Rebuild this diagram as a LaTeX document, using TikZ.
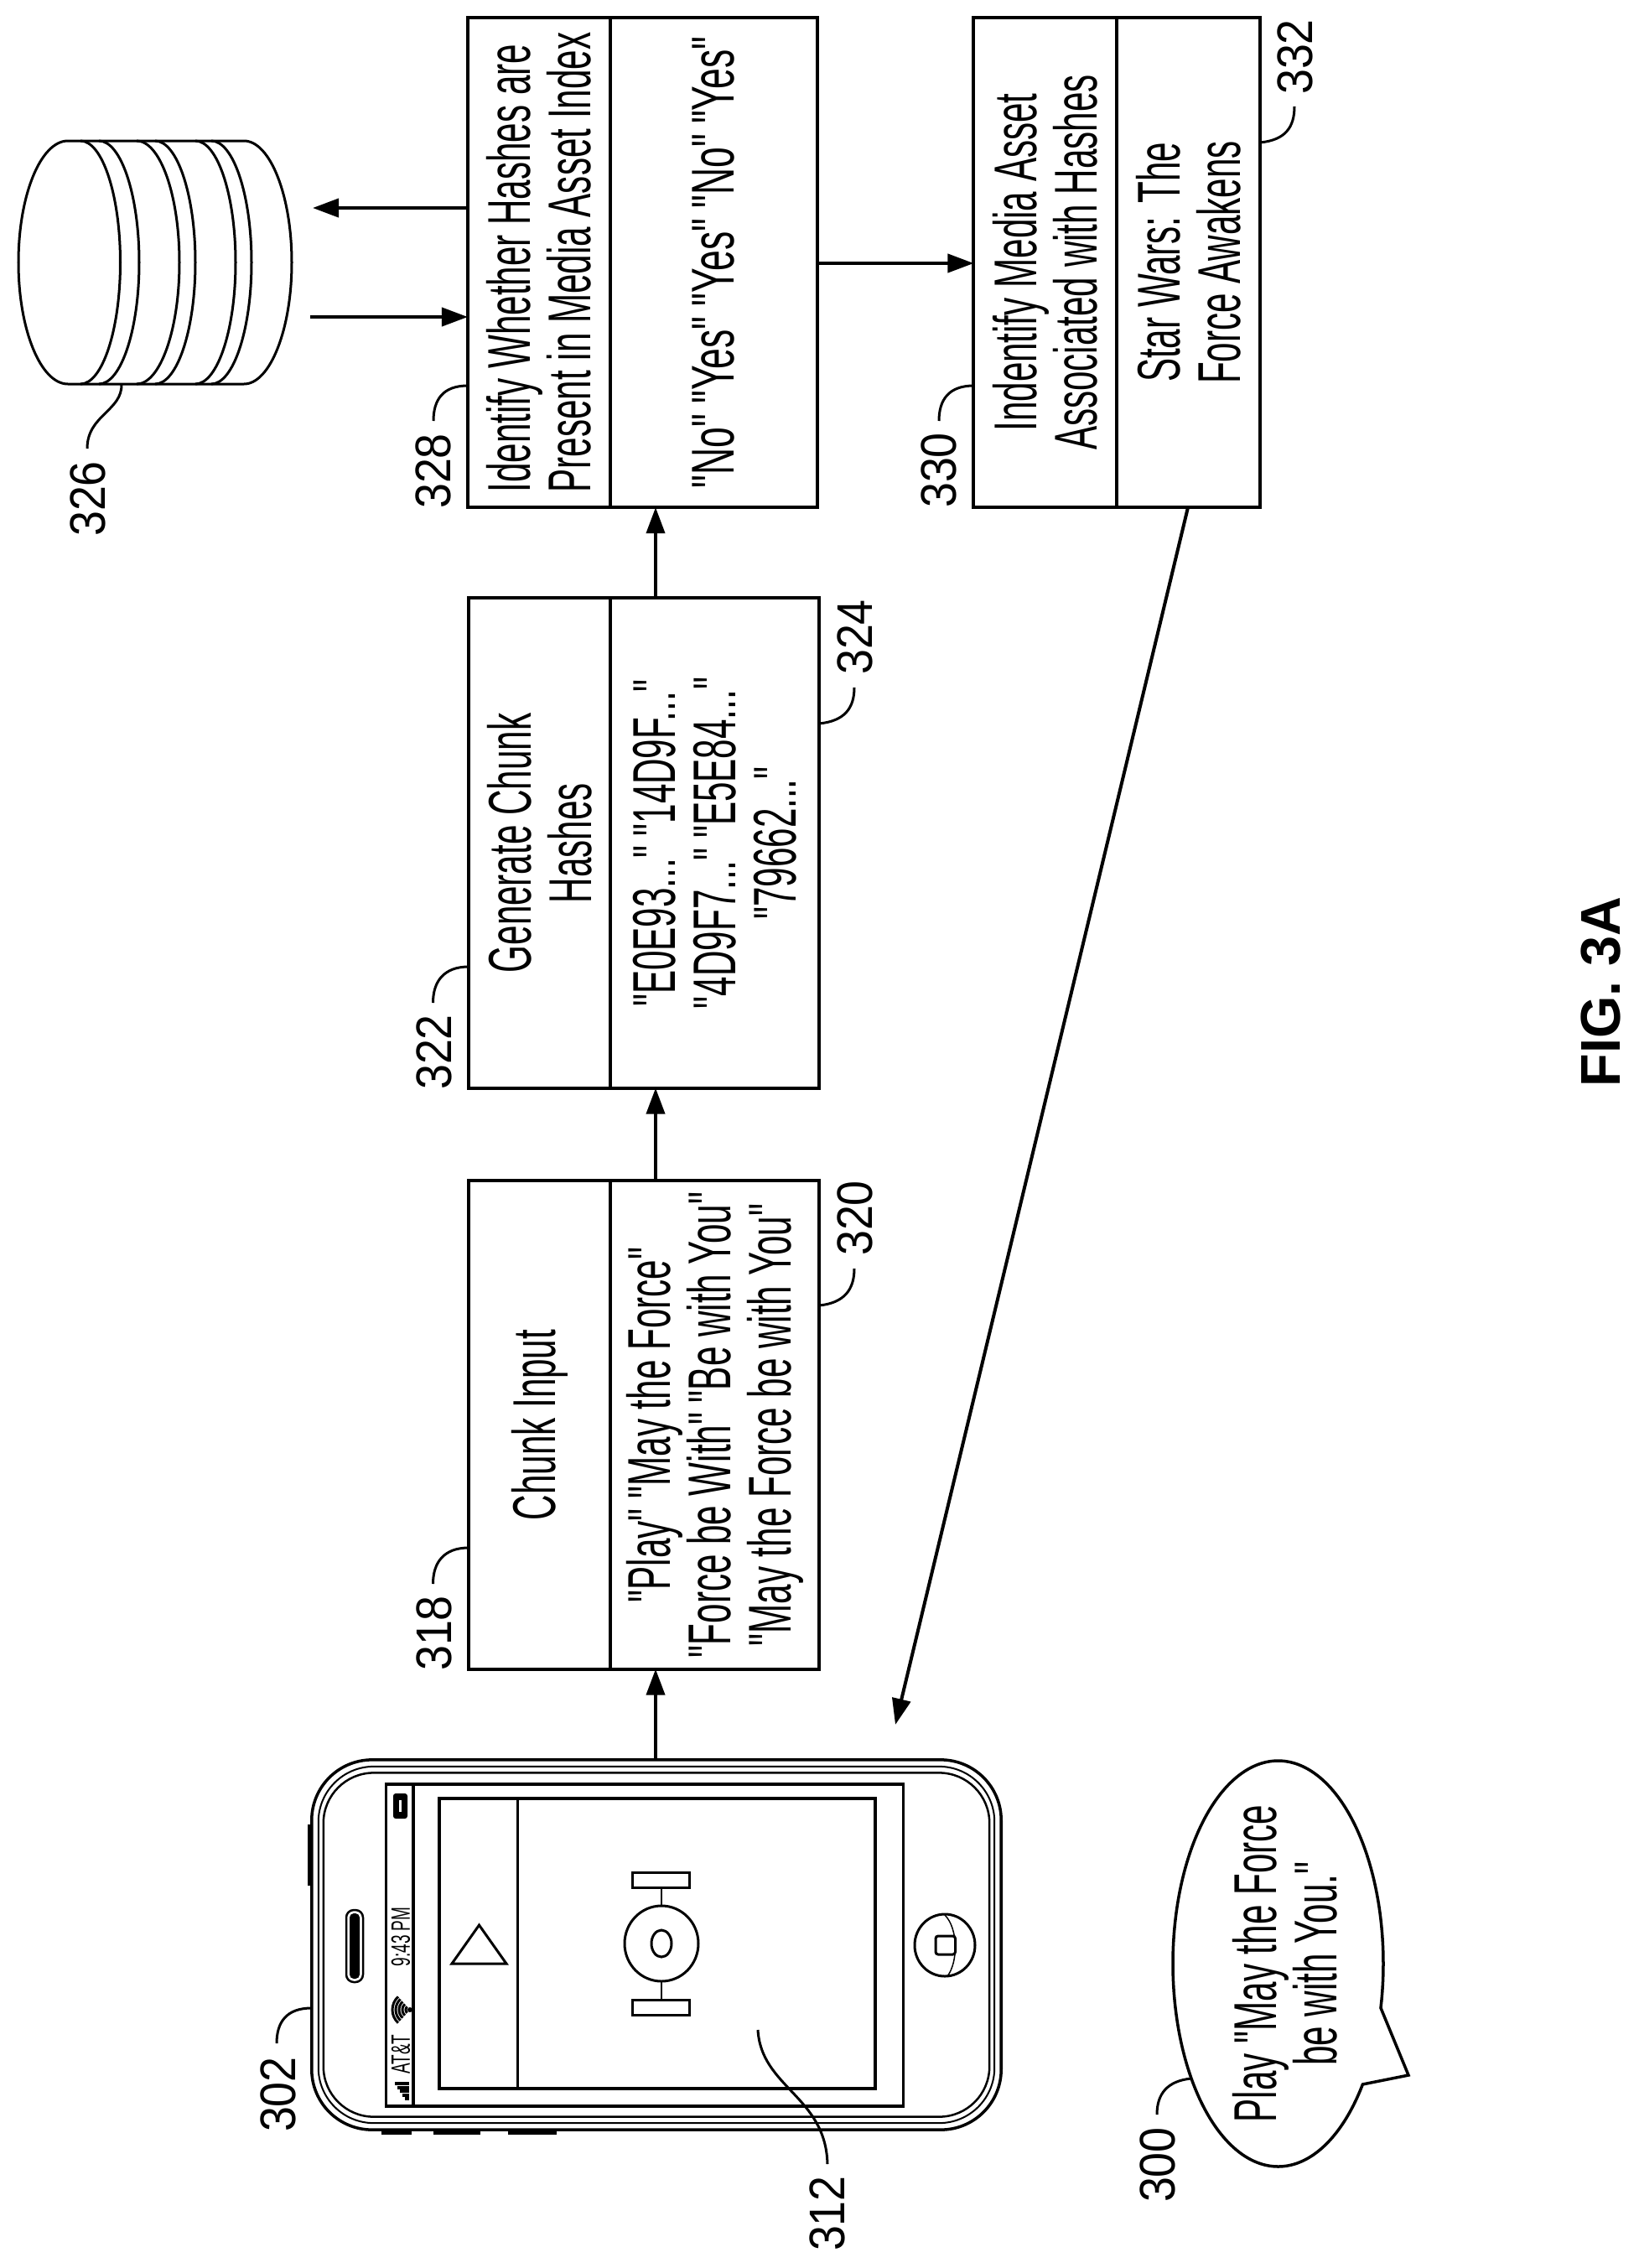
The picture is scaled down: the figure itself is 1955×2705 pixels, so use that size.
\documentclass[tikz,border=0pt]{standalone}
\usepackage{fontspec}
\setmainfont{Liberation Sans}
\newfontfamily\lsans{Liberation Sans}
\usetikzlibrary{arrows.meta,calc}
\tikzset{
  x=0.01cm,y=-0.01cm,
  every node/.style={inner sep=0pt,outer sep=0pt},
  boxpart/.style={draw,line width=0.04cm,rectangle},
  boxtext/.style={rotate=90,xscale=0.585,font=\lsans\fontsize{20.5pt}{20.5pt}\selectfont,align=center},
  boxtextl/.style={boxtext,align=left},
  reflabel/.style={rotate=90,xscale=0.9,font=\lsans\fontsize{17pt}{17pt}\selectfont},
  statustext/.style={rotate=90,xscale=0.6,font=\lsans\fontsize{9pt}{9pt}\selectfont},
  figlabel/.style={rotate=90,xscale=0.97,font=\lsans\fontsize{19pt}{19pt}\selectfont\bfseries},
  arr/.style={line width=0.04cm,-{Triangle[length=0.31cm,width=0.22cm]}},
  leader/.style={line width=0.03cm},
  shapeline/.style={line width=0.03cm},
  phonebody/.style={draw,rounded corners=0.72cm,rectangle}
}
\begin{document}
\begin{tikzpicture}
\useasboundingbox (0,0) rectangle (1955,2705);
% boxes
\node[boxpart,minimum width=1.69cm,minimum height=5.82cm] (h318) at (643.5,1699.5) {};
\node[boxpart,minimum width=2.49cm,minimum height=5.82cm] (b320) at (852.5,1699.5) {};
\node[boxpart,minimum width=1.69cm,minimum height=5.84cm] (h322) at (643.5,1005.5) {};
\node[boxpart,minimum width=2.49cm,minimum height=5.84cm] (b324) at (852.5,1005.5) {};
\node[boxpart,minimum width=1.70cm,minimum height=5.84cm] (h328) at (643,313) {};
\node[boxpart,minimum width=2.47cm,minimum height=5.84cm] (b328) at (851.5,313) {};
\node[boxpart,minimum width=1.70cm,minimum height=5.84cm] (h330) at (1246.5,313) {};
\node[boxpart,minimum width=1.71cm,minimum height=5.84cm] (b332) at (1417.5,313) {};
% box texts
\node[boxtext] (t318) at (h318) {Chunk Input};
\node[boxtext] (t320) at (b320) {"Play" "May the Force"\\"Force be With" "Be with You"\\"May the Force be with You"};
\node[boxtext] (t322) at (h322) {Generate Chunk\\Hashes};
\node[boxtext] (t324) at (b324) {"E0E93..." "14D9F..."\\"4D9F7..." "E5E84..."\\"79662..."};
\node[boxtextl] (t328) at (h328) {Identify Whether Hashes are\\Present in Media Asset Index};
\node[boxtext,xscale=1.055] (t328b) at (b328) {"No" "Yes" "Yes" "No" "Yes"};
\node[boxtext] (t330) at (h330) {Indentify Media Asset\\Associated with Hashes};
\node[boxtext] (t332) at (b332) {Star Wars: The\\Force Awakens};
% reference labels
\node[reflabel] (n318) at (518,1948) {318};
\node[reflabel] (n320) at (1019.5,1453) {320};
\node[reflabel] (n322) at (518,1255) {322};
\node[reflabel] (n324) at (1019.5,760) {324};
\node[reflabel] (n328) at (517,562) {328};
\node[reflabel] (n330) at (1120,561) {330};
\node[reflabel] (n332) at (1544.5,68) {332};
\node[reflabel] (n326) at (105,595) {326};
\node[reflabel] (n302) at (332,2498) {302};
\node[reflabel] (n312) at (987,2640) {312};
\node[reflabel] (n300) at (1381,2582) {300};
\node[figlabel] (fig) at (1910,1183) {FIG. 3A};
% leaders
\coordinate (p318) at (559,1846); \coordinate (q318) at (516.5,1889);
\draw[leader] (p318) .. controls +(-30,0) and +(0,-25) .. (q318);
\coordinate (p320) at (977,1557); \coordinate (q320) at (1019,1513);
\draw[leader] (p320) .. controls +(30,-3) and +(0,25) .. (q320);
\coordinate (p322) at (559,1153); \coordinate (q322) at (516.5,1196);
\draw[leader] (p322) .. controls +(-30,0) and +(0,-25) .. (q322);
\coordinate (p324) at (977,863); \coordinate (q324) at (1019,820);
\draw[leader] (p324) .. controls +(30,-3) and +(0,25) .. (q324);
\coordinate (p328) at (558,460); \coordinate (q328) at (517,502);
\draw[leader] (p328) .. controls +(-30,0) and +(0,-25) .. (q328);
\coordinate (p330) at (1161.5,460); \coordinate (q330) at (1120,502);
\draw[leader] (p330) .. controls +(-30,0) and +(0,-25) .. (q330);
\coordinate (p332) at (1503,170); \coordinate (q332) at (1544,127);
\draw[leader] (p332) .. controls +(30,-3) and +(0,25) .. (q332);
\coordinate (p326) at (145,458); \coordinate (q326) at (104,535);
\draw[leader] (p326) .. controls (146,490) and (104,495) .. (q326);
\coordinate (p302) at (371.5,2395); \coordinate (q302) at (330,2437);
\draw[leader] (p302) .. controls +(-30,0) and +(0,-25) .. (q302);
\coordinate (p312) at (904,2421); \coordinate (q312) at (987,2581);
\draw[leader] (p312) .. controls (908,2490) and (985,2500) .. (q312);
\coordinate (p300) at (1420.5,2479); \coordinate (q300) at (1380,2522);
\draw[leader] (p300) .. controls +(-28,3) and +(0,-25) .. (q300);
% database
\draw[line width=0.03cm] (81,168) -- (291,168) .. controls (322,168) and (348,233) .. (348,313) .. controls (348,393) and (322,458) .. (291,458) -- (81,458)
  .. controls (48.5,458) and (22,393) .. (22,313) .. controls (22,233) and (48.5,168) .. (81,168);
\foreach \a/\b in {96/143.5,118/166,163/214,185/233,233/281,252/300}{
  \draw[line width=0.03cm] (\a,168) .. controls ({\a+0.55*(\b-\a)},168) and (\b,233) .. (\b,313) .. controls (\b,393) and ({\a+0.55*(\b-\a)},458) .. (\a,458);
}
\coordinate (dbout) at (373,248);
\coordinate (dbin) at (370,378);
% phone
\node[phonebody,line width=0.035cm,minimum width=8.22cm,minimum height=4.41cm] (phone) at (783,2319.5) {};
\node[phonebody,line width=0.02cm,rounded corners=0.66cm,minimum width=8.06cm,minimum height=4.25cm] (phonemid) at (783,2319.5) {};
\node[phonebody,line width=0.025cm,rounded corners=0.6cm,minimum width=7.94cm,minimum height=4.10cm] (phonein) at (783,2319.5) {};
\node[draw,line width=0.035cm,rectangle,minimum width=6.17cm,minimum height=3.84cm] (screen) at (769,2320) {};
\draw[line width=0.035cm] (493,2128) -- (493,2512);
\node[draw,line width=0.035cm,rectangle,minimum width=5.20cm,minimum height=3.46cm] (video) at (784,2318) {};
\draw[line width=0.03cm] (617.5,2145) -- (617.5,2491);
\draw[line width=0.03cm,line join=miter] (539,2342) -- (604,2342) -- (571.5,2296) -- cycle;
% tie figure
\draw[shapeline] (789,2318) ellipse [x radius=44,y radius=45];
\draw[shapeline] (789,2318) ellipse [x radius=12,y radius=16];
\draw[shapeline] (754.5,2233) rectangle (822.5,2251);
\draw[shapeline] (754.5,2385.5) rectangle (822.5,2403.5);
\draw[line width=0.025cm] (789,2251) -- (789,2273);
\draw[line width=0.025cm] (789,2363) -- (789,2385.5);
% speaker
\draw[line width=0.025cm,rounded corners=0.09cm] (413,2278) rectangle (433,2364);
\fill[black,rounded corners=0.05cm] (417,2282) rectangle (429,2360);
% home
\draw[line width=0.03cm] (1127,2320) ellipse [x radius=36,y radius=37];
\draw[line width=0.03cm,rounded corners=0.03cm] (1116,2309) rectangle (1139.5,2331);
\draw[line width=0.015cm] (1127,2284) .. controls (1143,2300) and (1143,2340) .. (1130,2357);
% side buttons
\fill (367,2175.5) rectangle (372,2249);
\fill (454.5,2540) rectangle (491,2546);
\fill (517,2540) rectangle (573,2546);
\fill (606,2540) rectangle (664,2546);
% status bar
\node[statustext] (carrier) at (478,2450) {AT\&T};
\node[statustext] (clock) at (478,2310) {9:43 PM};
\foreach \r in {5,9,13,17,21}{
  \draw[line width=0.03cm] plot[domain=-48:48,samples=9,smooth] ({489-\r*cos(\x)},{2397+\r*sin(\x)});
}
\fill (489,2397) circle [radius=3];
\foreach \i/\w in {0/5,1/8,2/11,3/14,4/17}{
  \fill (488-\w,2505-\i*4.4) rectangle (488,2501-\i*4.4);
}
\fill[rounded corners=0.03cm] (469,2139) rectangle (486,2169);
\fill[white] (476,2147) rectangle (479,2161);
% bubble
\draw[line width=0.035cm,line join=miter] plot[domain=36.5:372.6,samples=140,smooth] ({1524.5+125.5*cos(\x)},{2342+242*sin(\x)}) -- (1680,2475) -- cycle;
\node[boxtext] (bubble) at (1532.5,2342) {Play "May the Force\\be with You."};
% connectors
\coordinate (ax) at (782,0);
\coordinate (ay) at (0,314);
\draw[arr] (ax |- phone.north) -- (ax |- b320.south);
\draw[arr] (ax |- b320.north) -- (ax |- b324.south);
\draw[arr] (ax |- b324.north) -- (ax |- b328.south);
\draw[arr] (b328.east |- ay) -- (h330.west |- ay);
\draw[arr] (h328.west |- dbout) -- (dbout);
\draw[arr] (dbin) -- (h328.west |- dbin);
\coordinate (back) at (1417,0);
\coordinate (backtip) at (1068,2057);
\draw[arr] (back |- b332.south) -- (backtip);
\end{tikzpicture}
\end{document}
